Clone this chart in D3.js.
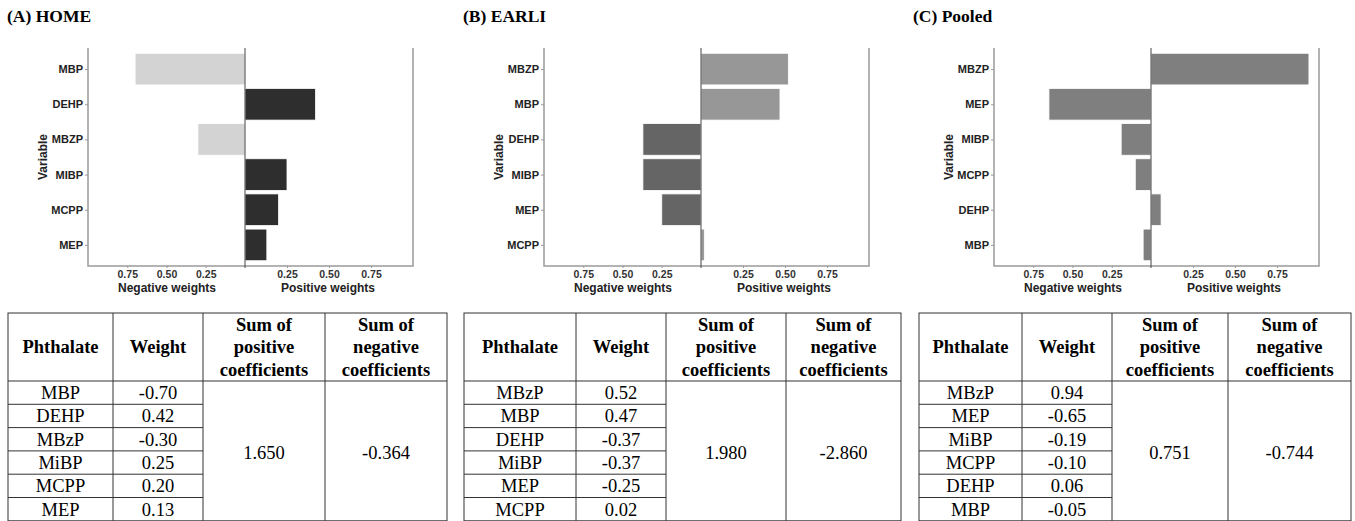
<!DOCTYPE html>
<html>
<head>
<meta charset="utf-8">
<script src="https://cdn.jsdelivr.net/npm/d3@7"></script>
<style>
  body { margin: 0; background: #fff; }
  svg { display: block; }
</style>
</head>
<body>
<div id="chart"></div>
<script>
// panel data
var titles = ['(A) HOME', '(B) EARLI', '(C) Pooled'];

var homeVars = ['MBP', 'DEHP', 'MBZP', 'MIBP', 'MCPP', 'MEP'];
var homeWeights = [-0.70, 0.42, -0.30, 0.25, 0.20, 0.13];
var homeNames = ['MBP', 'DEHP', 'MBzP', 'MiBP', 'MCPP', 'MEP'];
var homeSums = ['1.650', '-0.364'];

var earliVars = ['MBZP', 'MBP', 'DEHP', 'MIBP', 'MEP', 'MCPP'];
var earliWeights = [0.52, 0.47, -0.37, -0.37, -0.25, 0.02];
var earliNames = ['MBzP', 'MBP', 'DEHP', 'MiBP', 'MEP', 'MCPP'];
var earliSums = ['1.980', '-2.860'];

var pooledVars = ['MBZP', 'MEP', 'MIBP', 'MCPP', 'DEHP', 'MBP'];
var pooledWeights = [0.94, -0.65, -0.19, -0.10, 0.06, -0.05];
var pooledNames = ['MBzP', 'MEP', 'MiBP', 'MCPP', 'DEHP', 'MBP'];
var pooledSums = ['0.751', '-0.744'];

var tickValues = [0.25, 0.50, 0.75];
var headers = [['Phthalate'], ['Weight'], ['Sum of', 'positive', 'coefficients'], ['Sum of', 'negative', 'coefficients']];

(function () {
  var panels = [
    { vars: homeVars, w: homeWeights, names: homeNames, sums: homeSums, pos: '#2e2e2e', neg: '#d3d3d3', x0: 0,
      cols: [8, 113, 203, 325, 447] },
    { vars: earliVars, w: earliWeights, names: earliNames, sums: earliSums, pos: '#979797', neg: '#656565', x0: 456,
      cols: [464, 576, 666, 786, 901] },
    { vars: pooledVars, w: pooledWeights, names: pooledNames, sums: pooledSums, pos: '#7f7f7f', neg: '#7f7f7f', x0: 906,
      cols: [919, 1022, 1112, 1228, 1351] }
  ];

  var width = 1355;
  var height = 521;

  var svg = d3.select('#chart')
    .append('svg')
    .attr('width', width)
    .attr('height', height);

  var sans = '"Liberation Sans", Arial, sans-serif';
  var serif = '"Liberation Serif", "Times New Roman", serif';
  var axisGray = '#9a9a9a';
  var fmt = function (v) { return v.toFixed(2); };

  var pTop = 48, pBottom = 266, pLeft = 88, pMid = 245, pRight = 413;

  panels.forEach(function (p, pi) {
    var g = svg.append('g').attr('transform', 'translate(' + p.x0 + ',0)');

    g.append('text')
      .attr('x', 7).attr('y', 22)
      .style('font-family', serif).style('font-weight', 'bold').style('font-size', '17.5px')
      .text(titles[pi]);

    // two half-scales, left for negative and right for positive
    var xNeg = d3.scaleLinear().domain([0, 1]).range([pMid, pLeft]);
    var xPos = d3.scaleLinear().domain([0, 1]).range([pMid, pRight]);
    var y = d3.scalePoint().domain(p.vars).range([pTop, pBottom]).padding(0.6);
    var bh = y.step() * 0.9;

    var rows = p.vars.map(function (v, i) { return { v: v, w: p.w[i] }; });

    g.selectAll('rect.bar')
      .data(rows)
      .enter()
      .append('rect')
      .attr('class', 'bar')
      .attr('x', function (d) { return d.w < 0 ? xNeg(-d.w) : pMid; })
      .attr('width', function (d) { return d.w < 0 ? pMid - xNeg(-d.w) : xPos(d.w) - pMid; })
      .attr('y', function (d) { return y(d.v) - bh / 2; })
      .attr('height', bh)
      .style('fill', function (d) { return d.w < 0 ? p.neg : p.pos; })
      .style('stroke', '#fff')
      .style('stroke-width', 0.8);

    // frame: left, bottom, right
    g.append('path')
      .attr('d', 'M' + pLeft + ',' + pTop + 'V' + pBottom + 'H' + pRight + 'V' + pTop)
      .style('fill', 'none').style('stroke', axisGray).style('stroke-width', 1.5);

    // centre line
    g.append('line')
      .attr('x1', pMid).attr('x2', pMid).attr('y1', pTop).attr('y2', pBottom + 2)
      .style('stroke', '#444').style('stroke-width', 1);

    // y axis
    var yAxis = g.append('g')
      .attr('transform', 'translate(' + pLeft + ',0)')
      .call(d3.axisLeft(y).tickSize(3).tickPadding(2));
    yAxis.select('.domain').remove();
    yAxis.selectAll('line').style('stroke', axisGray);
    yAxis.selectAll('text')
      .style('font-family', sans).style('font-weight', 'bold').style('font-size', '11px').style('fill', '#222');

    // x axes
    [[xNeg, 167], [xPos, 328]].forEach(function (s, si) {
      var ax = g.append('g')
        .attr('transform', 'translate(0,' + pBottom + ')')
        .call(d3.axisBottom(s[0]).tickValues(tickValues).tickFormat(fmt).tickSize(2).tickPadding(3));
      ax.select('.domain').remove();
      ax.selectAll('line').style('stroke', axisGray);
      ax.selectAll('text')
        .style('font-family', sans).style('font-weight', 'bold').style('font-size', '10.5px').style('fill', '#333');
      g.append('text')
        .attr('x', s[1]).attr('y', 292)
        .attr('text-anchor', 'middle')
        .style('font-family', sans).style('font-weight', 'bold').style('font-size', '12px').style('fill', '#222')
        .text(si === 0 ? 'Negative weights' : 'Positive weights');
    });

    g.append('text')
      .attr('transform', 'translate(47,157) rotate(-90)')
      .attr('text-anchor', 'middle')
      .style('font-family', sans).style('font-weight', 'bold').style('font-size', '12px').style('fill', '#222')
      .text('Variable');

    // table
    var t = svg.append('g');
    var c = p.cols;
    var tTop = 313, hBot = 381, rh = 23.3;
    var tBot = hBot + rh * p.names.length;
    var lineStyle = function (sel) { sel.style('stroke', '#333').style('stroke-width', 1).style('fill', 'none'); };

    t.append('rect').attr('x', c[0]).attr('y', tTop).attr('width', c[4] - c[0]).attr('height', tBot - tTop).call(lineStyle);
    c.slice(1, 4).forEach(function (cx) {
      t.append('line').attr('x1', cx).attr('x2', cx).attr('y1', tTop).attr('y2', tBot).call(lineStyle);
    });
    t.append('line').attr('x1', c[0]).attr('x2', c[4]).attr('y1', hBot).attr('y2', hBot).call(lineStyle);
    p.names.forEach(function (n, i) {
      if (i > 0) {
        t.append('line').attr('x1', c[0]).attr('x2', c[2]).attr('y1', hBot + rh * i).attr('y2', hBot + rh * i).call(lineStyle);
      }
    });

    headers.forEach(function (h, hi) {
      var cx = (c[hi] + c[hi + 1]) / 2;
      var lh = 22.5;
      var y0 = (tTop + hBot) / 2 - (h.length - 1) * lh / 2;
      var tx = t.append('text')
        .attr('text-anchor', 'middle')
        .style('font-family', serif).style('font-weight', 'bold').style('font-size', '18.5px');
      h.forEach(function (line, li) {
        tx.append('tspan').attr('x', cx).attr('y', y0 + li * lh).attr('dy', '0.35em').text(line);
      });
    });

    p.names.forEach(function (n, i) {
      var cy = hBot + rh * i + rh / 2;
      t.append('text').attr('x', (c[0] + c[1]) / 2).attr('y', cy).attr('dy', '0.35em')
        .attr('text-anchor', 'middle').style('font-family', serif).style('font-size', '18.5px').text(n);
      t.append('text').attr('x', (c[1] + c[2]) / 2).attr('y', cy).attr('dy', '0.35em')
        .attr('text-anchor', 'middle').style('font-family', serif).style('font-size', '18.5px')
        .text(fmt(p.w[i]));
    });

    p.sums.forEach(function (s, si) {
      t.append('text')
        .attr('x', (c[2 + si] + c[3 + si]) / 2).attr('y', (hBot + tBot) / 2 + 2).attr('dy', '0.35em')
        .attr('text-anchor', 'middle').style('font-family', serif).style('font-size', '18.5px').text(s);
    });
  });
})();
</script>
</body>
</html>
